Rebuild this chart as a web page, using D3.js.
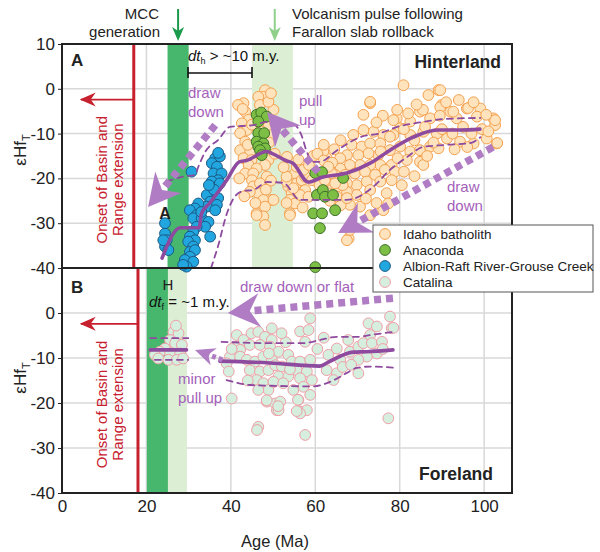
<!DOCTYPE html>
<html>
<head>
<meta charset="utf-8">
<script src="https://cdnjs.cloudflare.com/ajax/libs/d3/7.8.5/d3.min.js"></script>
<style>
  body { margin: 0; background: #fff; }
  text { font-family: "Liberation Sans", Arial, sans-serif; }
</style>
</head>
<body>
<div id="chart"></div>
<script>
// ---- data (age Ma, eHf) ----
var xTicks = [0, 20, 40, 60, 80, 100];
var yTicksA = [10, 0, -10, -20, -30, -40];
var yTicksB = [0, -10, -20, -30, -40];
var gridY = [0, -10, -20, -30];

var idaho = [
  [48.1,-0.3],[47.7,-1.8],[46.5,-1.8],[43.0,-3.2],[46.9,-3.6],[43.4,-5.1],[50.1,-4.7],[48.9,-2.9],
  [44.2,-6.9],[42.6,-7.7],[43.8,-9.2],[42.2,-9.9],[48.9,-8.5],[50.5,-7.7],[49.7,-10.3],[43.4,-11.8],
  [42.2,-13.7],[44.6,-14.0],[43.0,-15.5],[44.9,-15.9],[48.9,-15.9],[44.2,-17.0],[48.1,-17.0],[46.1,-17.8],
  [43.4,-18.9],[45.3,-18.9],[45.0,-20.4],[48.5,-19.6],[45.3,-21.8],[46.9,-21.1],[46.5,-23.3],[49.7,-24.8],
  [47.7,-24.8],[48.1,-26.3],[46.1,-27.8],[47.7,-28.5],[46.1,-28.2],[48.1,-30.4],[50.1,-24.8],
  [41.7,-3.6],[42.8,-4.5],[49.5,-1.0],[45.0,-8.0],[47.2,-9.5],[44.0,-12.5],[49.0,-12.0],[50.4,-14.5],
  [42.0,-20.0],[44.5,-23.0],[49.5,-20.5],[48.3,-22.5],[45.8,-25.5],[43.2,-24.0],
  [54.0,-19.6],[55.2,-18.9],[53.6,-21.8],[54.4,-23.3],[55.6,-21.1],[56.8,-20.4],[57.6,-22.6],[54.0,-24.8],
  [55.2,-25.6],[54.0,-27.8],[56.4,-23.7],[58.4,-24.1],[57.6,-19.6],[59.2,-20.4],[55.6,-17.4],[57.2,-18.1],
  [53.2,-20.7],[54.8,-22.2],[53.2,-19.6],[53.2,-25.5],[53.3,-15.2],[54.0,-28.2],[52.5,-17.5],[56.0,-15.8],
  [58.5,-17.0],[59.5,-15.0],[57.0,-26.5],
  [80.9,0.8],[89.2,-0.3],[86.8,-1.4],[73.0,-3.2],[71.4,-5.8],[90.0,-3.6],[92.0,-5.1],[95.9,-4.4],
  [99.1,-4.4],[84.8,-5.1],[79.3,-6.6],[82.5,-7.3],[87.2,-6.6],[93.5,-6.6],[98.3,-6.2],[102.2,-6.6],
  [102.6,-8.1],[103.0,-12.2],[100.6,-11.1],[97.5,-12.2],[94.3,-11.8],[91.2,-11.1],[88.8,-10.0],[85.6,-9.6],
  [82.5,-10.3],[80.1,-8.8],[78.5,-10.3],[76.1,-10.3],[73.8,-9.6],[71.4,-9.2],[69.0,-10.3],[68.6,-12.5],
  [71.0,-12.9],[73.0,-12.2],[75.4,-12.2],[77.7,-10.7],[74.9,-14.8],[72.6,-14.4],[70.2,-14.8],[67.5,-14.8],
  [65.9,-15.5],[77.7,-13.7],[80.1,-12.9],[82.5,-14.0],[84.8,-13.7],[87.2,-12.9],[89.2,-13.3],[84.8,-16.3],
  [81.7,-15.9],[78.1,-17.0],[75.4,-17.0],[73.0,-17.0],[70.6,-17.0],[68.2,-17.0],[65.9,-17.8],[63.5,-17.8],
  [64.7,-19.2],[67.1,-19.2],[69.4,-18.9],[71.8,-18.5],[74.2,-19.2],[76.5,-18.1],[78.9,-18.5],[85.6,-17.0],
  [62.7,-15.5],[61.9,-14.0],[69.8,-21.5],[72.2,-20.7],[67.5,-21.1],[75.4,-20.7],[78.1,-20.4],[73.0,-22.6],
  [69.8,-23.7],[67.5,-23.0],[76.9,-23.3],[77.3,-25.6],[76.1,-27.1],[70.6,-26.3],[68.2,-25.9],[73.0,-28.2],
  [67.9,-33.4],[67.5,-33.8],[68.2,-31.5],[103.1,-12.1],[102.6,-7.0],[73.0,-2.9],[85.5,-4.7],[89.6,-4.1],
  [79.4,-4.7],[92.7,-5.1],[96.2,-4.3],[89.6,-0.3],
  [60.5,-14.5],[62.0,-16.0],[63.0,-20.5],[65.0,-22.0],[61.0,-21.5],[64.0,-16.5],[66.5,-21.5],[62.5,-23.0],
  [63.5,-25.0],[66.0,-26.0],[65.0,-24.0],[67.5,-24.4],[62.0,-12.5],[64.5,-13.5],[66.0,-11.5],
  [62.3,-20.4],[63.9,-18.9],[63.1,-17.4],[64.7,-21.1],
  [81.0,-9.0],[83.5,-11.5],[86.0,-8.5],[88.0,-12.0],[90.0,-9.0],[92.5,-10.0],[95.0,-8.5],[97.0,-10.0],
  [99.5,-9.0],[93.0,-13.5],[96.0,-13.0],[86.5,-15.0],[89.5,-6.0],[91.0,-3.0],[94.0,-2.5],[97.5,-3.0],
  [100.5,-5.8],[101.0,-9.5],[84.0,-3.5],[82.0,-5.5],[78.5,-7.0],[76.0,-6.0],[74.5,-7.5],[75.5,-14.0],
  [79.5,-15.5],[81.0,-18.5],[83.5,-19.5],[80.5,-21.5],[72.0,-24.5],[74.5,-25.5]
];

var anaconda = [
  [46.1,-5.8],[47.2,-5.3],[48.5,-6.2],[46.5,-7.3],[46.5,-9.9],[47.9,-9.9],[46.1,-11.8],[47.7,-12.2],
  [46.5,-12.9],[48.1,-13.3],[46.9,-13.7],[47.3,-14.8],
  [60.0,-18.8],[61.6,-18.6],[66.6,-19.9],[60.4,-23.7],[61.8,-22.6],[62.3,-24.1],[64.2,-23.7],
  [59.5,-27.8],[61.6,-27.8],[64.7,-27.1],[61.1,-31.1],[60.0,-39.8]
];

var albion = [
  [30.7,-18.5],[36.3,-15.5],[37.4,-15.1],[35.5,-16.6],[36.7,-17.4],[35.9,-18.9],[37.8,-18.9],[37.0,-20.4],
  [35.5,-20.7],[36.7,-21.9],[37.4,-21.1],[35.9,-23.3],[34.3,-23.7],[37.0,-24.4],[35.1,-25.2],[36.7,-25.9],
  [34.3,-26.3],[36.3,-27.1],[32.3,-25.6],[31.5,-26.7],[30.3,-27.1],[31.9,-28.2],[31.1,-28.9],[33.1,-28.9],
  [34.7,-29.7],[33.9,-30.8],[31.9,-30.8],[35.1,-33.0],[31.1,-31.9],[30.3,-33.0],[31.5,-33.8],[29.9,-34.1],
  [31.1,-35.2],[30.3,-36.4],[31.5,-36.0],[30.3,-37.5],[29.1,-38.2],[31.1,-38.6],[29.5,-39.7],[28.7,-39.3],
  [24.4,-32.3],[24.8,-33.8],[24.4,-35.2],[25.2,-36.0],[24.0,-33.8],[24.4,-30.0],[37.0,-14.3],[36.0,-22.5],
  [34.8,-21.5],[33.0,-27.5]
];

var catalina = [
  [26.4,-4.2],[27.6,-4.5],[25.6,-6.0],[26.8,-6.7],[28.4,-7.1],[24.4,-7.9],[23.2,-8.6],[22.0,-9.3],
  [25.6,-9.0],[28.0,-9.0],[22.8,-10.1],[25.2,-10.4],[27.2,-10.4],[28.7,-10.1],[27.0,-2.8],
  [41.4,-4.9],[43.0,-6.0],[44.9,-4.5],[46.5,-4.2],[48.1,-5.3],[49.7,-6.0],[41.0,-7.5],[42.2,-8.2],
  [44.5,-7.1],[46.9,-7.1],[49.3,-7.5],[39.8,-9.7],[42.2,-9.7],[43.8,-10.4],[45.7,-10.8],[47.7,-9.7],
  [49.7,-10.4],[44.5,-12.7],[46.9,-13.0],[48.9,-12.7],[50.5,-11.6],[46.1,-14.9],[47.7,-15.6],[50.1,-15.3],
  [48.9,-17.1],[46.5,-17.1],[48.5,-19.7],[50.5,-20.1],[50.9,-21.6],[40.2,-19.0],[46.5,-25.3],[46.2,-26.0],
  [39.0,-11.2],[40.2,-8.0],[39.5,-13.0],
  [49.7,-3.4],[56.4,-4.1],[58.8,-1.2],[58.4,-3.8],[57.6,-6.4],[51.3,-8.6],[53.6,-9.3],[54.4,-10.8],
  [56.4,-10.8],[58.8,-10.4],[52.1,-11.9],[55.6,-12.7],[58.0,-13.0],[51.3,-14.1],[53.6,-14.1],[56.4,-14.5],
  [59.2,-14.9],[50.1,-15.3],[52.4,-15.6],[54.8,-17.1],[57.2,-16.4],[51.7,-19.7],[56.0,-19.3],[58.8,-18.2],
  [51.3,-21.6],[56.4,-21.9],[58.0,-21.6],[63.1,-9.3],[65.1,-7.9],[65.9,-10.4],[67.8,-6.0],[68.2,-8.6],
  [70.2,-7.5],[71.4,-6.7],[72.6,-2.3],[73.0,-4.9],[74.6,-3.0],[73.4,-6.7],[74.6,-9.0],[72.2,-9.7],
  [70.2,-10.4],[75.8,-6.4],[77.7,-0.8],[78.1,-3.4],[70.2,-13.4],[65.1,-13.4],[62.7,-12.7],[64.3,-14.9],
  [77.3,-23.4],[78.5,-3.3],[57.6,-27.1],[56.4,-22.3],[55.9,-19.3],[48.5,-19.4],[51.2,-20.7],[55.6,-21.8],
  [53.0,-6.5],[60.5,-8.0],[62.0,-5.5],[66.5,-12.0],[68.5,-11.5],[76.0,-8.0],[54.0,-12.5],[52.0,-4.5],
  [44.0,-15.0],[49.0,-9.0]
];

// median and envelope curves
var medianA = [[23.7,-37.8],[28,-31],[32.5,-31],[33,-28],[35,-25.5],[39,-20.4],[42,-16.3],[43.7,-16],
  [48.5,-14],[49.7,-14.4],[53,-16],[54.7,-16.6],[58.3,-20.8],[61.8,-19.7],[67.5,-18.8],[73,-16.6],
  [77.7,-13.7],[83.2,-10.8],[88.9,-9.2],[94.3,-9.2],[99,-9]];
var upperA = [[24.8,-20.7],[28.7,-19.6],[31.5,-19.2],[32.3,-17.4],[33.9,-14.1],[37,-11.4],[39.8,-8.5],
  [45.3,-8.1],[48.6,-7.4],[54.5,-7.7],[56.9,-10.8],[58,-14.1],[59.5,-16.3],[61,-16.3],[65.2,-13.7],
  [70.6,-10.8],[75.4,-9.9],[79.4,-8.5],[85.5,-7.4],[91.2,-6.7],[99.1,-6.5]];
var lowerA = [[35.3,-40],[37,-35],[39,-28],[41,-24],[43,-22.8],[45.3,-22.6],[48.6,-20.8],[52.4,-21],
  [56.4,-24.8],[58,-24.8],[61.8,-24.8],[67.5,-24.8],[73.7,-21.9],[77.7,-18.1],[81.8,-15.2],[85.5,-13],
  [91.2,-12.5],[96.7,-12.1],[99.1,-10.8]];
var medianB1 = [[20.9,-8.2],[29.5,-8.2]];
var upperB1 = [[20.9,-5.6],[29.9,-5.6]];
var lowerB1 = [[22,-10.4],[29.9,-10.4]];
var medianB2 = [[37.4,-10.7],[49.3,-11.1],[61.1,-11.8],[63.1,-10.9],[69,-8.7],[72.2,-8.6],[78.4,-8.2]];
var upperB2 = [[37.8,-6.4],[49.3,-6.7],[57.1,-6.7],[61.1,-6.0],[65.1,-5.3],[69.9,-5.3],[73,-4.9],[78.4,-4.2]];
var lowerB2 = [[39,-14.9],[44.5,-16],[50.9,-16.2],[59.5,-16.3],[63.5,-15.3],[67.5,-13.3],[69.8,-12.2],
  [73,-11.9],[79.4,-12.2]];

// shaded intervals (Ma)
var bandsA = [[25, 30, "dark"], [45, 54.7, "light"]];
var bandsB = [[20.1, 25.1, "dark"], [25.1, 29.6, "light"]];
var basinRange = {A: 17, B: 18};

// trend arrows: [fromAge, fromEps, toAge, toEps, panel]
var trendArrows = [
  [36.3, -8.1, 20.4, -26.4, "A"],
  [60.7, -18.6, 48.6, -5.2, "A"],
  [102.1, -13, 65.4, -32.2, "A"],
  [78.4, 3.3, 39.3, 0, "B"],
  [38.0, -10.4, 31.5, -8.2, "B"]
];

var legendNames = ["Idaho batholith", "Anaconda", "Albion-Raft River-Grouse Creek", "Catalina"];

// ---- styles ----
var styles = {
  idaho: {fill: "#fee3bd", stroke: "#f4a14f"},
  anaconda: {fill: "#7dbf45", stroke: "#3f6f2a"},
  albion: {fill: "#21a6df", stroke: "#1b5a86"},
  catalina: {fill: "#d6eedd", stroke: "#ef9fa8"}
};
var purple = "#8d4a9e", lightPurple = "#b07cc4", textPurple = "#a45fba";
var red = "#c7202e";

var w = 600, h = 552;
var svg = d3.select("#chart").append("svg").attr("width", w).attr("height", h);

var x = d3.scaleLinear().domain([0, 106.6]).range([62, 512]);
var yA = d3.scaleLinear().domain([-40, 10]).range([268, 44]);
var yB = d3.scaleLinear().domain([-40, 10]).range([493, 268]);

// grid
var grid = svg.append("g");
[20, 40, 60, 80, 100].forEach(function(v) {
  grid.append("line").attr("x1", x(v)).attr("x2", x(v)).attr("y1", 44).attr("y2", 493)
    .attr("stroke", "#d8d8d8").attr("stroke-width", 1.5);
});
gridY.forEach(function(v) {
  [yA, yB].forEach(function(y) {
    grid.append("line").attr("x1", 62).attr("x2", 512).attr("y1", y(v)).attr("y2", y(v))
      .attr("stroke", "#d8d8d8").attr("stroke-width", 1.5);
  });
});

// bands
function drawBands(bands, y) {
  svg.append("g").selectAll("rect").data(bands).enter().append("rect")
    .attr("x", function(d) { return x(d[0]); })
    .attr("width", function(d) { return x(d[1]) - x(d[0]); })
    .attr("y", y(10)).attr("height", y(-40) - y(10))
    .attr("fill", function(d) { return d[2] == "dark" ? "#48b76e" : "#dcefd5"; });
}
drawBands(bandsA, yA);
drawBands(bandsB, yB);

// red basin and range lines + arrows
function redMarker(age, y) {
  var g = svg.append("g");
  g.append("line").attr("x1", x(age)).attr("x2", x(age)).attr("y1", y(10)).attr("y2", y(-40))
    .attr("stroke", red).attr("stroke-width", 3);
  var ay = y(-2.4);
  g.append("line").attr("x1", x(age)).attr("x2", x(4.5)).attr("y1", ay).attr("y2", ay)
    .attr("stroke", red).attr("stroke-width", 1.8);
  var tx = x(4.2);
  g.append("path").attr("d", "M" + tx + "," + ay + "L" + (tx + 16) + "," + (ay - 7) +
      "L" + (tx + 11) + "," + ay + "L" + (tx + 16) + "," + (ay + 7) + "Z").attr("fill", red);
  var cy = y(-20.3);
  var t = g.append("text").attr("transform", "translate(107," + cy + ") rotate(-90)")
    .attr("text-anchor", "middle").attr("fill", red).attr("font-size", 15);
  t.append("tspan").attr("x", 0).attr("y", 0).text("Onset of Basin and");
  t.append("tspan").attr("x", 0).attr("y", 16).text("Range extension");
}
redMarker(basinRange.A, yA);
redMarker(basinRange.B, yB);

// points
function drawPoints(data, y, st) {
  svg.append("g").selectAll("circle").data(data).enter().append("circle")
    .attr("cx", function(d) { return x(d[0]); })
    .attr("cy", function(d) { return y(d[1]); })
    .attr("r", 5.4)
    .attr("fill", st.fill).attr("stroke", st.stroke).attr("stroke-width", 1);
}
drawPoints(idaho, yA, styles.idaho);
drawPoints(anaconda, yA, styles.anaconda);
drawPoints(albion, yA, styles.albion);
drawPoints(catalina, yB, styles.catalina);

// median / envelope lines
function drawLine(data, y, dashed) {
  var line = d3.line().x(function(d) { return x(d[0]); }).y(function(d) { return y(d[1]); })
    .curve(d3.curveMonotoneX);
  svg.append("path").datum(data).attr("d", line).attr("fill", "none")
    .attr("stroke", purple).attr("stroke-width", dashed ? 1.8 : 3.6)
    .attr("stroke-dasharray", dashed ? "6,5" : null)
    .attr("stroke-linecap", "round");
}
drawLine(upperA, yA, true);
drawLine(lowerA, yA, true);
drawLine(medianA, yA, false);
drawLine(upperB1, yB, true);
drawLine(lowerB1, yB, true);
drawLine(medianB1, yB, false);
drawLine(upperB2, yB, true);
drawLine(lowerB2, yB, true);
drawLine(medianB2, yB, false);

// dotted trend arrows
trendArrows.forEach(function(a, i) {
  var y = a[4] == "A" ? yA : yB;
  var x1 = x(a[0]), y1 = y(a[1]), x2 = x(a[2]), y2 = y(a[3]);
  var dx = x2 - x1, dy = y2 - y1, len = Math.sqrt(dx * dx + dy * dy);
  var ux = dx / len, uy = dy / len, nx = -uy, ny = ux;
  var small = i == 4;
  var L = small ? 20 : 32, W = small ? 9 : 17, N = small ? 6 : 10;
  var bx = x2 - (L - N) * ux, by = y2 - (L - N) * uy;
  svg.append("line").attr("x1", x1).attr("y1", y1).attr("x2", bx).attr("y2", by)
    .attr("stroke", lightPurple).attr("stroke-width", small ? 5 : 7.5)
    .attr("stroke-dasharray", small ? "4,3" : "7,5");
  var p = [[x2, y2], [x2 - L * ux + W * nx, y2 - L * uy + W * ny], [bx, by],
           [x2 - L * ux - W * nx, y2 - L * uy - W * ny]];
  svg.append("path").attr("d", "M" + p.join("L") + "Z").attr("fill", lightPurple);
});

// purple labels
var notes = [
  ["draw", 188, 98], ["down", 188, 117], ["pull", 299, 106], ["up", 299, 125],
  ["draw", 447, 192], ["down", 447, 211], ["draw down or flat", 240, 292],
  ["minor", 178, 384], ["pull up", 178, 403]
];
svg.append("g").selectAll("text").data(notes).enter().append("text")
  .attr("x", function(d) { return d[1]; }).attr("y", function(d) { return d[2]; })
  .attr("fill", textPurple).attr("font-size", 15).text(function(d) { return d[0]; });

// frame
svg.append("rect").attr("x", 62).attr("y", 44).attr("width", 450).attr("height", 449)
  .attr("fill", "none").attr("stroke", "#222").attr("stroke-width", 2);
svg.append("line").attr("x1", 62).attr("x2", 512).attr("y1", 268).attr("y2", 268)
  .attr("stroke", "#222").attr("stroke-width", 2);

// axes
function styleAxis(g) {
  g.select(".domain").remove();
  g.selectAll("text").attr("font-size", 17).attr("fill", "#222")
    .attr("font-family", "Liberation Sans, Arial, sans-serif");
  g.selectAll("line").attr("stroke", "#222");
}
function plainNum(d) { return String(d); }
svg.append("g").attr("transform", "translate(62,0)")
  .call(d3.axisLeft(yA).tickValues(yTicksA).tickSize(4).tickPadding(3).tickFormat(plainNum))
  .call(styleAxis);
svg.append("g").attr("transform", "translate(62,0)")
  .call(d3.axisLeft(yB).tickValues(yTicksB).tickSize(4).tickPadding(3).tickFormat(plainNum))
  .call(styleAxis);
svg.append("g").attr("transform", "translate(0,493)")
  .call(d3.axisBottom(x).tickValues(xTicks).tickSize(0).tickPadding(7).tickFormat(plainNum))
  .call(styleAxis);

svg.append("text").attr("x", 275).attr("y", 547).attr("text-anchor", "middle")
  .attr("font-size", 16.5).attr("fill", "#222").text("Age (Ma)");

function yTitle(cy) {
  var t = svg.append("text").attr("transform", "translate(26," + cy + ") rotate(-90)")
    .attr("text-anchor", "middle").attr("font-size", 17).attr("fill", "#222");
  t.append("tspan").text("εHf");
  t.append("tspan").attr("font-size", 11).attr("dy", 4).text("T");
}
yTitle(150);
yTitle(378);

// panel labels
function label(txt, px, py, size, anchor) {
  svg.append("text").attr("x", px).attr("y", py).attr("font-size", size).attr("font-weight", "bold")
    .attr("fill", "#222").attr("text-anchor", anchor || "start").text(txt);
}
label("A", 71, 66, 17);
label("B", 71, 293, 17);
label("Hinterland", 501, 68, 17.5, "end");
label("Foreland", 493, 480, 17.5, "end");
label("A", 165, 219, 16, "middle");
svg.append("text").attr("x", 168).attr("y", 290).attr("text-anchor", "middle")
  .attr("font-size", 15).attr("fill", "#222").text("H");

// dt labels
function dtLabel(px, py, sub, rest) {
  var t = svg.append("text").attr("x", px).attr("y", py).attr("font-size", 15).attr("fill", "#111");
  t.append("tspan").attr("font-style", "italic").text("dt");
  t.append("tspan").attr("font-size", 9).attr("dy", 3).text(sub);
  t.append("tspan").attr("dy", -3).text(rest);
}
dtLabel(188, 61, "h", " > ~10 m.y.");
dtLabel(149, 307, "f", " = ~1 m.y.");
svg.append("path").attr("d", "M188,67V78M188,73H252M252,67V78").attr("stroke", "#111")
  .attr("stroke-width", 1.6).attr("fill", "none");

// top annotations
svg.append("text").attr("x", 159).attr("y", 19).attr("text-anchor", "end").attr("font-size", 15)
  .attr("fill", "#222").text("MCC");
svg.append("text").attr("x", 160).attr("y", 37).attr("text-anchor", "end").attr("font-size", 15)
  .attr("fill", "#222").text("generation");
svg.append("text").attr("x", 292).attr("y", 19).attr("font-size", 15).attr("fill", "#222")
  .text("Volcanism pulse following");
svg.append("text").attr("x", 292).attr("y", 37).attr("font-size", 15).attr("fill", "#222")
  .text("Farallon slab rollback");
function downArrow(age, col) {
  var ax = x(age);
  svg.append("line").attr("x1", ax).attr("x2", ax).attr("y1", 9).attr("y2", 32)
    .attr("stroke", col).attr("stroke-width", 2);
  svg.append("path").attr("d", "M" + (ax - 6) + ",27L" + ax + ",41L" + (ax + 6) + ",27L" + ax + ",31Z")
    .attr("fill", col);
}
downArrow(27.5, "#1b9a4b");
downArrow(50.4, "#8fd18b");

// legend
var lg = svg.append("g").attr("transform", "translate(373,225)");
lg.append("rect").attr("width", 220).attr("height", 67).attr("fill", "#fff")
  .attr("stroke", "#555").attr("stroke-width", 1);
var keys = ["idaho", "anaconda", "albion", "catalina"];
legendNames.forEach(function(n, i) {
  var st = styles[keys[i]];
  lg.append("circle").attr("cx", 12).attr("cy", 9 + i * 16).attr("r", 5.4)
    .attr("fill", st.fill).attr("stroke", st.stroke);
  lg.append("text").attr("x", 30).attr("y", 14 + i * 16).attr("font-size", 13.5)
    .attr("fill", "#222").text(n);
});
</script>
</body>
</html>
